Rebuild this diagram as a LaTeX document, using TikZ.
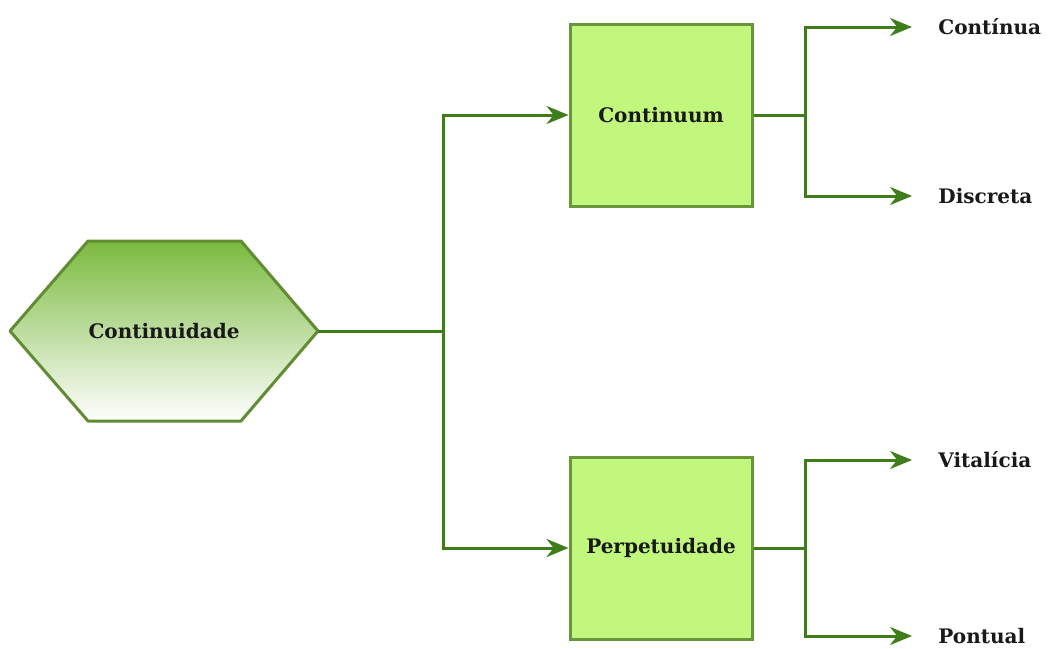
\documentclass[tikz,border=0pt]{standalone}
\usepackage{fontspec}
\setmainfont{DejaVu Serif}
\usetikzlibrary{arrows.meta}
\newcommand{\Px}{0.5pt}
\definecolor{boxfill}{RGB}{194,247,125}
\definecolor{boxline}{RGB}{104,150,56}
\definecolor{hexline}{RGB}{98,140,52}
\definecolor{hextop}{RGB}{122,186,62}
\definecolor{arrline}{RGB}{62,125,26}
\tikzset{Box/.style={
    inner sep=0pt,
    minimum width=182*\Px,
    minimum height=182*\Px,
    draw=boxline,
    line width=1.5pt,
    fill=boxfill,
    align=center,
    font=\fontsize{10}{12}\selectfont\bfseries,
    text=black!90,
    }
}
\begin{document}
\begin{tikzpicture}[x=\Px, y=-\Px,
    Hex/.style={draw=hexline, line width=1.5pt, line join=round,
      top color=hextop, bottom color=white},
    HexText/.style={inner sep=0pt, minimum width=308*\Px, minimum height=180*\Px,
      font=\fontsize{10}{12}\selectfont\bfseries, text=black!90},
    Leaf/.style={anchor=west, inner xsep=13pt, inner ysep=0pt,
      font=\fontsize{10}{12}\selectfont\bfseries, text=black!90},
    arr/.style={draw=arrline, line width=1.5pt,
      -{Stealth[length=11pt,width=9pt]}},
    lin/.style={draw=arrline, line width=1.5pt},
]
\useasboundingbox (0,0) rectangle (1048,648);
% main shape and the two boxes
\shade [Hex] (10,331) -- (88,241) -- (241,241) -- (318,331)
  -- (241,421) -- (88,421) -- cycle;
\node [HexText] (cont) at (164,331) {Continuidade};
\node [Box] (cm) at (661,115) {Continuum};
\node [Box] (pp) at (661,548) {Perpetuidade};
% leaves
\node [Leaf] (ct) at (912,27) {Contínua};
\node [Leaf] (dc) at (912,196) {Discreta};
\node [Leaf] (vt) at (912,460) {Vitalícia};
\node [Leaf] (pt) at (912,636) {Pontual};
% junctions
\coordinate (j1) at (443,331);
\coordinate (j2) at (805,115);
\coordinate (j3) at (805,548);
\draw [lin] (cont.east) -- (j1);
\draw [arr] (j1) |- (cm.west);
\draw [arr] (j1) |- (pp.west);
\draw [lin] (cm.east) -- (j2);
\draw [arr] (j2) |- (ct.west);
\draw [arr] (j2) |- (dc.west);
\draw [lin] (pp.east) -- (j3);
\draw [arr] (j3) |- (vt.west);
\draw [arr] (j3) |- (pt.west);
\end{tikzpicture}
\end{document}
